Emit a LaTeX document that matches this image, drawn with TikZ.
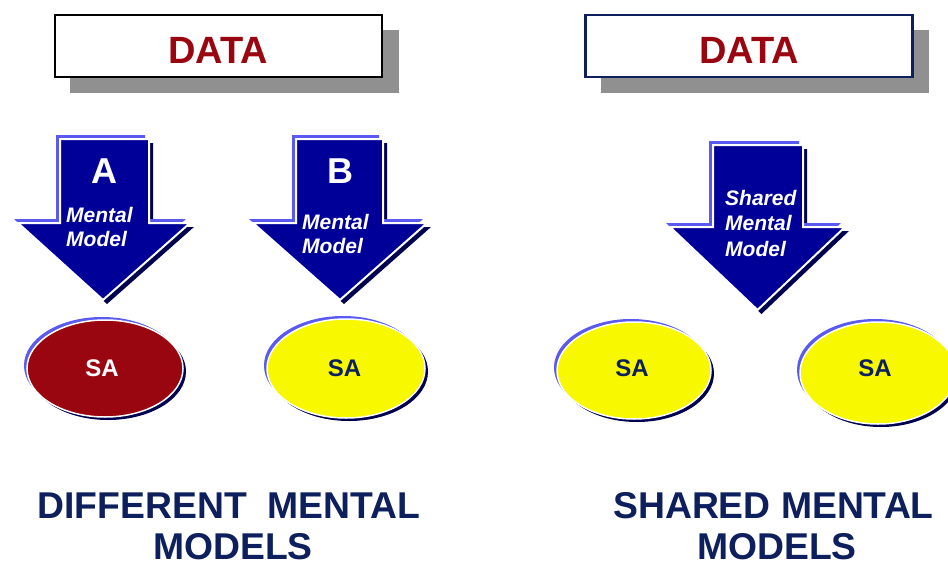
\documentclass[tikz,border=0pt]{standalone}
\usepackage{fontspec}
\setmainfont{Liberation Sans}
\usetikzlibrary{shapes.geometric}
\definecolor{arrowblue}{HTML}{000099}
\definecolor{lightedge}{HTML}{5A5AF0}
\definecolor{darkedge}{HTML}{000050}
\definecolor{darkred}{HTML}{9A0610}
\definecolor{saYellow}{HTML}{F8F800}
\definecolor{navytext}{HTML}{0D1F5C}
\definecolor{shadowgray}{HTML}{909090}
\newcommand\bevelarrow[8]{%
  \fill[darkedge, shift={(4,4)}] (#1,#3) -- (#2,#3) -- (#2,#4) -- (#6,#4) -- (#7,#8) -- (#5,#4) -- (#1,#4) -- cycle;
  \fill[lightedge, shift={(-4,-4)}] (#1,#3) -- (#2,#3) -- (#2,#4) -- (#6,#4) -- (#7,#8) -- (#5,#4) -- (#1,#4) -- cycle;
  \filldraw[fill=arrowblue, draw=white, line width=2pt, line join=miter] (#1,#3) -- (#2,#3) -- (#2,#4) -- (#6,#4) -- (#7,#8) -- (#5,#4) -- (#1,#4) -- cycle;
}
\newcommand\bevelellipse[4]{%
  \fill[darkedge] ({#1+3},{#2+3}) ellipse [x radius=#3, y radius=#4];
  \fill[lightedge] ({#1-3},{#2-3}) ellipse [x radius=#3, y radius=#4];
}
\tikzset{
  databox/.style={draw, line width=2.5pt, fill=white, minimum width=327pt, minimum height=62pt, inner sep=0pt},
  datatext/.style={anchor=base, inner sep=0pt, text=darkred, font=\bfseries\fontsize{38}{40}\selectfont},
  letter/.style={anchor=base, inner sep=0pt, text=white, font=\bfseries\fontsize{36}{40}\selectfont},
  mm/.style={anchor=base west, inner sep=0pt, align=left, text=white, font=\bfseries\itshape\fontsize{21}{24.5}\selectfont},
  saell/.style={ellipse, draw=white, line width=1.5pt, inner sep=0pt},
  satext/.style={anchor=center, inner sep=0pt, font=\bfseries\fontsize{24}{26}\selectfont},
  bottomtext/.style={anchor=base, inner sep=0pt, text=navytext, font=\bfseries\fontsize{37.3}{43}\selectfont},
}
\begin{document}
\begin{tikzpicture}[x=1pt,y=-1pt]
\useasboundingbox[fill=white] (0,0) rectangle (948,565);
% DATA boxes with shadows
\fill[shadowgray] (70,30) rectangle (399,93);
\node[databox, draw=black] (data1) at (218.5,46) {};
\node[datatext] (data1t) at (218,63) {DATA};
\fill[shadowgray] (601,30) rectangle (929,93);
\node[databox, draw=navytext] (data2) at (749,46) {};
\node[datatext] (data2t) at (749,63) {DATA};
% arrows
\bevelarrow{60}{149}{139}{223}{18}{190}{103}{300}
\bevelarrow{296}{383}{139}{223}{253}{427}{340}{300}
\bevelarrow{713}{803}{145}{227}{670}{845}{757.5}{310}
\node[letter] (la) at (104,183) {A};
\node[letter] (lb) at (340,183) {B};
\node[mm] (mma) at (66,246.5) {Mental\\Model};
\node[mm] (mmb) at (302,253.5) {Mental\\Model};
\node[mm, font=\bfseries\itshape\fontsize{21}{25.5}\selectfont] (mmc) at (725,256) {Shared\\Mental\\Model};
% ellipses
\bevelellipse{105}{368.5}{78}{48.5}
\node[saell, fill=darkred, minimum width=156pt, minimum height=97pt] (saA) at (105,368.5) {};
\node[satext, text=white] (saAt) at (102,368) {SA};
\bevelellipse{346}{368.5}{79}{49.5}
\node[saell, fill=saYellow, minimum width=158pt, minimum height=99pt] (saB) at (346,368.5) {};
\node[satext, text=navytext] (saBt) at (344.5,368) {SA};
\bevelellipse{634}{370.5}{77}{48.5}
\node[saell, fill=saYellow, minimum width=154pt, minimum height=97pt] (saC) at (634,370.5) {};
\node[satext, text=navytext] (saCt) at (632,368) {SA};
\bevelellipse{878}{373}{78}{51}
\node[saell, fill=saYellow, minimum width=156pt, minimum height=102pt] (saD) at (878,373) {};
\node[satext, text=navytext] (saDt) at (875,368) {SA};
% bottom captions
\node[bottomtext] (cap1a) at (229,518) {DIFFERENT\ \ MENTAL};
\node[bottomtext] (cap1b) at (233,559) {MODELS};
\node[bottomtext] (cap2a) at (773.5,518) {SHARED MENTAL};
\node[bottomtext] (cap2b) at (777,559) {MODELS};
\end{tikzpicture}
\end{document}
